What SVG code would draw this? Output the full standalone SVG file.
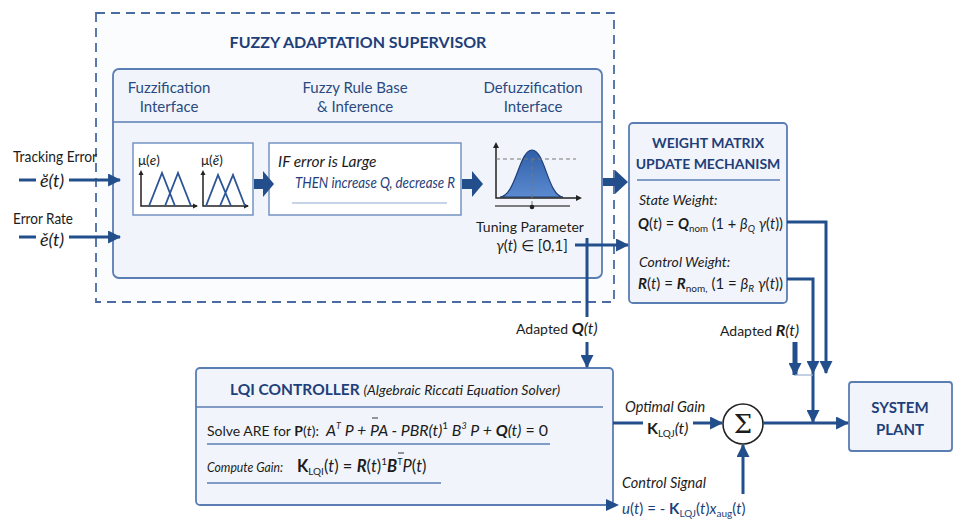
<svg xmlns="http://www.w3.org/2000/svg" width="955" height="520" viewBox="0 0 955 520">
<defs>
<marker id="ah" viewBox="0 0 12 12" refX="11" refY="6" markerWidth="13" markerHeight="13" markerUnits="userSpaceOnUse" orient="auto">
<path d="M0,0 L12,6 L0,12 z" fill="#234e8c"/>
</marker>
<linearGradient id="bell" x1="0" y1="0" x2="0" y2="1">
<stop offset="0" stop-color="#2f5fa8"/>
<stop offset="1" stop-color="#5b8ad0"/>
</linearGradient>
<style>
.t{font-family:Lato,"Open Sans","DejaVu Sans",sans-serif;fill:#1c1c1c}
.h{font-family:Lato,"Open Sans",sans-serif;font-weight:bold;fill:#1f3f7a}
.hd{font-family:Lato,"Open Sans",sans-serif;fill:#2a4a80;font-size:15px}
.box{fill:#f1f5fb;stroke:#5a7db3;stroke-width:1.8}
.wbox{fill:#ffffff;stroke:#7593c4;stroke-width:1.5}
.ln{fill:none;stroke:#234e8c;stroke-width:3}
.blk{fill:#234e8c}
.sep{stroke:#5a7db3;stroke-width:1.5}
.ax{fill:none;stroke:#222;stroke-width:1.5}
.tri{fill:none;stroke:#2b5596;stroke-width:1.8}
.i{font-style:italic}
.b{font-weight:bold}
</style>
</defs>
<rect width="955" height="520" fill="#ffffff"/>

<!-- supervisor frame -->
<g id="fuzzy-supervisor">
<rect x="96" y="13" width="518" height="289" fill="#fbfcfe" stroke="#4a6ca3" stroke-width="1.8" stroke-dasharray="9 6"/>
<text class="h" x="358" y="48" font-size="16" text-anchor="middle">FUZZY ADAPTATION SUPERVISOR</text>
<rect class="box" x="113" y="69" width="489" height="209" rx="6"/>
<line class="sep" x1="113" y1="122" x2="602" y2="122"/>
<text class="hd" x="169" y="93" text-anchor="middle">Fuzzification</text>
<text class="hd" x="169" y="112" text-anchor="middle">Interface</text>
<text class="hd" x="355" y="93" text-anchor="middle">Fuzzy Rule Base</text>
<text class="hd" x="355" y="112" text-anchor="middle">&amp; Inference</text>
<text class="hd" x="533" y="93" text-anchor="middle">Defuzzification</text>
<text class="hd" x="533" y="112" text-anchor="middle">Interface</text>
</g>

<!-- fuzzification membership functions -->
<g id="fuzzification">
<rect class="wbox" x="133" y="143" width="120" height="72"/>
<text class="t" x="138" y="165" font-size="13.5">μ(<tspan class="i">e</tspan>)</text>
<text class="t" x="201" y="165" font-size="13.5">μ(<tspan class="i">ĕ</tspan>)</text>
<path class="ax" d="M141,172 V206 H197"/>
<path class="ax" d="M203,172 V206 H248"/>
<path d="M141,170 l-2.5,5 h5 z M249,206 l-5,-2.5 v5 z M198,206 l-5,-2.5 v5 z M203,170 l-2.5,5 h5 z" fill="#222"/>
<path class="tri" d="M149,206 L162,173 L175,206 M165,206 L178,173 L191,206"/>
<path class="tri" d="M206,206 L218,175 L231,206 M220,206 L233,175 L245,206"/>
</g>

<!-- rule base -->
<g id="rule-base">
<rect class="wbox" x="269" y="143" width="192" height="72"/>
<text class="t i" x="278" y="167" font-size="15.5">IF error is Large</text>
<text class="t i" x="295" y="188" font-size="15.5" style="fill:#1f3f7a" textLength="160" lengthAdjust="spacingAndGlyphs">THEN increase Q, decrease R</text>
<line x1="292" y1="203" x2="447" y2="203" stroke="#8fa9d2" stroke-width="1.2"/>
</g>

<!-- defuzzification -->
<g id="defuzzification">
<path d="M500,197 C516,196 519,150 532,150 C545,150 548,196 563,197 Z" fill="url(#bell)" stroke="#1f3f7a" stroke-width="1.2"/>
<path class="ax" d="M496,145 V198 H580"/>
<path d="M496,142 l-3,6 h6 z M582,198 l-6,-3 v6 z" fill="#222"/>
<line x1="496" y1="159" x2="576" y2="159" stroke="#777" stroke-width="1" stroke-dasharray="4 3"/>
<line x1="532" y1="159" x2="532" y2="207" stroke="#777" stroke-width="1" stroke-dasharray="4 3"/>
<line x1="495" y1="206" x2="570" y2="206" stroke="#555" stroke-width="1.5"/>
<circle cx="532" cy="207" r="2.3" fill="#222"/>
<text class="t" x="530" y="232" font-size="14" text-anchor="middle">Tuning Parameter</text>
<text class="t" x="532" y="251" font-size="15" text-anchor="middle"><tspan class="i">γ</tspan>(<tspan class="i">t</tspan>) ∈ [0,1]</text>
</g>

<!-- weight matrix update -->
<g id="weight-matrix">
<rect class="box" x="629" y="123" width="158" height="180" rx="4"/>
<text class="h" x="708" y="148" font-size="14" text-anchor="middle">WEIGHT MATRIX</text>
<text class="h" x="708" y="169" font-size="14" text-anchor="middle">UPDATE MECHANISM</text>
<line class="sep" x1="637" y1="180" x2="780" y2="180"/>
<text class="t i" x="639" y="205" font-size="14">State Weight:</text>
<text class="t" x="638" y="229" font-size="15" textLength="145" lengthAdjust="spacingAndGlyphs"><tspan class="b i">Q</tspan>(<tspan class="i">t</tspan>) = <tspan class="b i">Q</tspan><tspan font-size="10" dy="3">nom</tspan><tspan dy="-3"> (1 + </tspan><tspan class="i">β</tspan><tspan class="i" font-size="10" dy="3">Q</tspan><tspan dy="-3"> </tspan><tspan class="i">γ</tspan>(<tspan class="i">t</tspan>))</text>
<text class="t i" x="639" y="267" font-size="14">Control Weight:</text>
<text class="t" x="638" y="289" font-size="15" textLength="145" lengthAdjust="spacingAndGlyphs"><tspan class="b i">R</tspan>(<tspan class="i">t</tspan>) = <tspan class="b i">R</tspan><tspan font-size="10" dy="3">nom,</tspan><tspan dy="-3"> (1 = </tspan><tspan class="i">β</tspan><tspan class="i" font-size="10" dy="3">R</tspan><tspan dy="-3"> </tspan><tspan class="i">γ</tspan>(<tspan class="i">t</tspan>))</text>
</g>

<!-- LQI controller -->
<g id="lqi-controller">
<rect class="box" x="196" y="368" width="417" height="137" rx="4"/>
<text class="h" x="230" y="395" font-size="15.5">LQI CONTROLLER <tspan class="i" font-weight="normal" style="fill:#1c1c1c" font-size="14">(Algebraic Riccati Equation Solver)</tspan></text>
<line class="sep" x1="196" y1="407" x2="603" y2="407"/>
<text class="t" x="207" y="436" font-size="14">Solve ARE for <tspan class="b">P</tspan>(<tspan class="i">t</tspan>):</text>
<text class="t i" x="326" y="436" font-size="16" textLength="222" lengthAdjust="spacingAndGlyphs">A<tspan font-size="9" dy="-7">T</tspan><tspan dy="7"> P + PA - PBR(t)</tspan><tspan font-size="10" dy="-7" font-style="normal">1</tspan><tspan dy="7"> B</tspan><tspan font-size="9" dy="-7">3</tspan><tspan dy="7"> P + </tspan><tspan class="b">Q</tspan>(t)<tspan font-style="normal"> = 0</tspan></text>
<line x1="372" y1="418" x2="378" y2="418" stroke="#555" stroke-width="1.2"/>
<line class="sep" x1="207" y1="444" x2="550" y2="444"/>
<text class="t i" x="207" y="472" font-size="14" textLength="76" lengthAdjust="spacingAndGlyphs">Compute Gain:</text>
<text class="t" x="297" y="472" font-size="16.5"><tspan class="b">K</tspan><tspan font-size="10" dy="3">LQI</tspan><tspan dy="-3">(</tspan><tspan class="i">t</tspan>) = <tspan class="b i">R</tspan>(<tspan class="i">t</tspan>)<tspan font-size="10" dy="-7">1</tspan><tspan class="b i" dy="7">B</tspan><tspan font-size="9" dy="-7">T</tspan><tspan class="i" dy="7">P</tspan>(<tspan class="i">t</tspan>)</text>
<line x1="398" y1="453" x2="404" y2="453" stroke="#555" stroke-width="1.2"/>
<line class="sep" x1="207" y1="483" x2="441" y2="483"/>
</g>

<!-- summing junction -->
<g id="sum">
<circle cx="743" cy="424" r="20" fill="#fff" stroke="#222" stroke-width="1.6"/>
<text x="743" y="433" font-family="'DejaVu Serif',serif" font-size="26" text-anchor="middle" fill="#1c1c1c">Σ</text>
</g>

<!-- plant -->
<g id="system-plant">
<rect class="box" x="849" y="382" width="103" height="69" rx="3"/>
<text class="h" x="900" y="413" font-size="15" text-anchor="middle">SYSTEM</text>
<text class="h" x="900" y="435" font-size="15" text-anchor="middle">PLANT</text>
</g>

<!-- signal labels -->
<g id="labels">
<text class="t" x="13" y="162" font-size="15" textLength="84" lengthAdjust="spacingAndGlyphs">Tracking Error</text>
<text class="t i" x="40" y="187" font-size="18">ĕ(t)</text>
<text class="t" x="13" y="224" font-size="15" textLength="60" lengthAdjust="spacingAndGlyphs">Error Rate</text>
<text class="t i" x="40" y="246" font-size="18">ě(t)</text>
<text class="t" x="516" y="334" font-size="14">Adapted <tspan class="b i" font-size="16">Q</tspan><tspan class="i" font-size="16">(t)</tspan></text>
<text class="t" x="720" y="336" font-size="14">Adapted <tspan class="b i" font-size="16">R</tspan><tspan class="i" font-size="16">(t)</tspan></text>
<text class="t i" x="625" y="412" font-size="14.5">Optimal Gain</text>
<text class="t" x="647" y="434" font-size="16"><tspan class="b">K</tspan><tspan font-size="10" dy="3">LQJ</tspan><tspan class="i" dy="-3">(t)</tspan></text>
<text class="t i" x="622" y="488" font-size="14.5">Control Signal</text>
<text class="t" x="622" y="514" font-size="15" style="fill:#1f3f7a"><tspan class="i">u</tspan>(<tspan class="i">t</tspan>) = - <tspan class="b">K</tspan><tspan font-size="10" dy="3">LQJ</tspan><tspan dy="-3">(</tspan><tspan class="i">t</tspan>)<tspan class="i">x</tspan><tspan font-size="10" dy="3">aug</tspan><tspan dy="-3">(</tspan><tspan class="i">t</tspan>)</text>
</g>

<!-- connectors -->
<g id="connectors">
<line x1="19" y1="180" x2="36" y2="180" class="ln"/>
<line x1="69" y1="180" x2="120" y2="180" class="ln" marker-end="url(#ah)"/>
<line x1="19" y1="237" x2="36" y2="237" class="ln"/>
<line x1="69" y1="237" x2="120" y2="237" class="ln" marker-end="url(#ah)"/>
<!-- block arrows inside supervisor -->
<path class="blk" d="M254,179 h9 v-8 l11,13 l-11,13 v-8 h-9 z"/>
<path class="blk" d="M462,179 h10 v-8 l11,13 l-11,13 v-8 h-10 z"/>
<path class="blk" d="M603,178 h12 v-8 l13,12 l-13,12 v-8 h-12 z"/>
<!-- tuning parameter to weight matrix -->
<line x1="575" y1="245" x2="628" y2="245" class="ln" marker-end="url(#ah)"/>
<!-- adapted Q down to LQI -->
<line x1="587" y1="238" x2="587" y2="317" class="ln"/>
<line x1="587" y1="342" x2="587" y2="367" class="ln" marker-end="url(#ah)"/>
<!-- weights toward plant input -->
<polyline points="787,222 826,222 826,373" class="ln" marker-end="url(#ah)"/>
<polyline points="787,279 813,279 813,373" class="ln" marker-end="url(#ah)"/>
<line x1="813" y1="373" x2="813" y2="422" class="ln" marker-end="url(#ah)"/>
<line x1="795" y1="342" x2="795" y2="375" stroke="#234e8c" stroke-width="5" marker-end="url(#ah)"/>
<line x1="795" y1="375" x2="813" y2="375" stroke="#9ab0d4" stroke-width="1.2"/>
<!-- gain to summing junction -->
<line x1="613" y1="423" x2="643" y2="423" class="ln"/>
<line x1="693" y1="423" x2="722" y2="423" class="ln" marker-end="url(#ah)"/>
<line x1="743" y1="494" x2="743" y2="445" class="ln" marker-end="url(#ah)"/>
<line x1="763" y1="423" x2="848" y2="423" class="ln" marker-end="url(#ah)"/>
<!-- control signal -->
<path class="blk" d="M606,499 l13,6 l-13,6 z"/>
</g>
</svg>
